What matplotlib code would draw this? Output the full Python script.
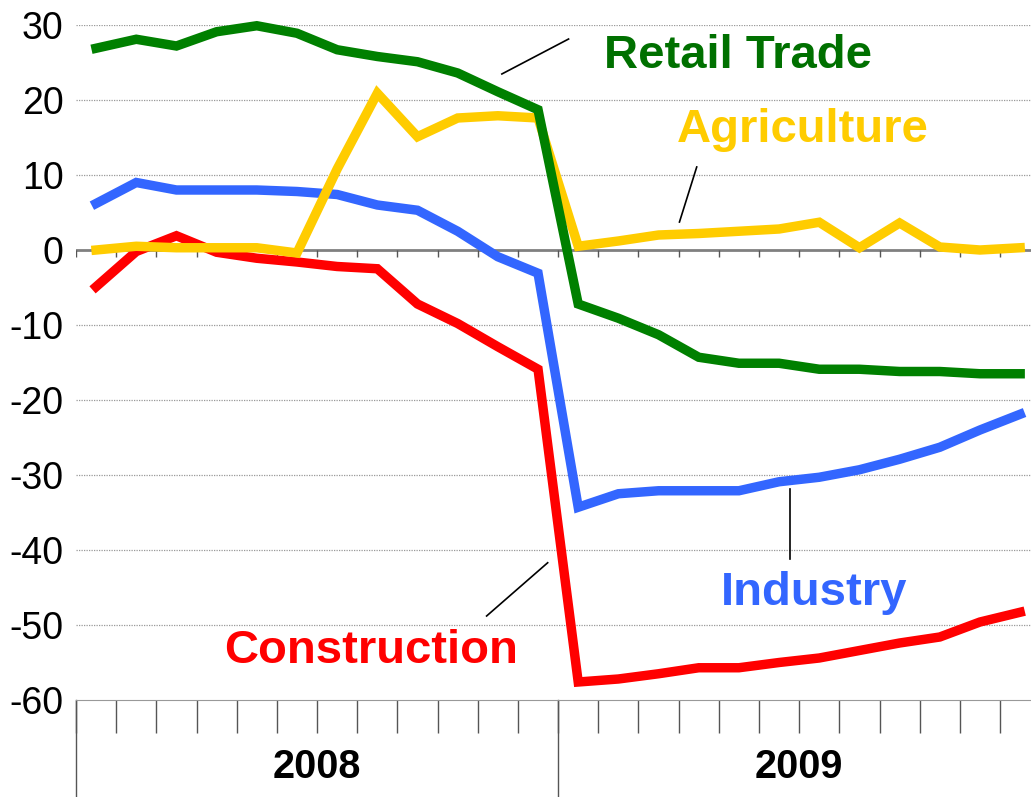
import matplotlib
matplotlib.use("Agg")
import matplotlib.pyplot as plt
import numpy as np

plt.rcParams["font.family"] = ["Liberation Sans", "DejaVu Sans"]
plt.rcParams["axes.unicode_minus"] = False

# monthly values, Jan 2008 - Dec 2009
retail = [26.9, 28.1, 27.2, 29.1, 29.9, 28.9, 26.7, 25.8, 25.1, 23.6, 21.1, 18.7,
          -7.2, -9.1, -11.3, -14.3, -15.1, -15.1, -15.9, -15.9, -16.2, -16.2, -16.5, -16.5]
agriculture = [0.0, 0.5, 0.3, 0.3, 0.3, -0.4, 10.8, 20.9, 15.1, 17.6, 17.9, 17.6,
               0.5, 1.2, 2.0, 2.2, 2.5, 2.8, 3.7, 0.3, 3.6, 0.4, 0.0, 0.3]
industry = [6.2, 9.0, 8.0, 8.0, 8.0, 7.8, 7.4, 6.0, 5.3, 2.5, -0.9, -3.1,
            -34.3, -32.5, -32.1, -32.1, -32.1, -30.9, -30.3, -29.3, -27.9, -26.3, -24.0, -21.9]
construction = [-4.9, -0.2, 1.9, -0.3, -1.1, -1.6, -2.2, -2.5, -7.2, -9.8, -12.9, -15.9,
                -57.6, -57.2, -56.5, -55.7, -55.7, -55.0, -54.4, -53.4, -52.4, -51.6, -49.6, -48.3]
years = ["2008", "2009"]

x = np.arange(len(retail)) + 0.5

fig = plt.figure(figsize=(10.31, 7.97), dpi=100)
ax = fig.add_axes([76 / 1031, 97 / 797, 1 - 76 / 1031, 675 / 797])

lw = 6.8
ax.plot(x, construction, color="#FF0000", lw=lw, solid_joinstyle="miter", zorder=3, clip_on=False)
ax.plot(x, industry, color="#3366FF", lw=lw, solid_joinstyle="miter", zorder=4, clip_on=False)
ax.plot(x, agriculture, color="#FFCC00", lw=lw, solid_joinstyle="miter", zorder=5, clip_on=False)
ax.plot(x, retail, color="#008000", lw=lw, solid_joinstyle="miter", zorder=6, clip_on=False)

ax.set_xlim(0, 23.77)
ax.set_ylim(-60, 30)
ax.set_yticks(np.arange(-60, 31, 10))
ax.tick_params(axis="y", length=0, pad=9, labelsize=27)
ax.set_xticks(np.arange(0, 24))
ax.tick_params(axis="x", direction="out", length=24, width=1, color="#555555", labelbottom=False)

for s in ["top", "right", "left"]:
    ax.spines[s].set_visible(False)
ax.spines["bottom"].set_color("#999999")

for v in range(-50, 31, 10):
    if v != 0:
        ax.axhline(v, color="#999999", lw=0.9, ls=(0, (1, 1)), zorder=1)
ax.axhline(0, color="#808080", lw=2, zorder=2)
ax.vlines(np.arange(0, 24), -0.9, 0, color="#555555", lw=1, zorder=2)

# year separators and labels
trans = ax.get_xaxis_transform()
for b in [0, 12]:
    ax.plot([b, b], [0, -0.144], transform=trans, color="#555555", lw=1, clip_on=False)
for i, yr in enumerate(years):
    ax.text(6 + 12 * i, -0.1, yr, transform=trans, ha="center", va="center",
            fontsize=28.5, fontweight="bold")

# series labels with leader lines
labels = [
    ("Retail Trade", "#007000", 16.47, 24.3, (10.60, 12.26), (23.47, 28.13)),
    ("Agriculture", "#FFCC00", 18.09, 14.4, (15.02, 15.45), (3.73, 11.07)),
    ("Industry", "#3366FF", 18.38, -47.3, (17.76, 17.76), (-31.9, -41.2)),
    ("Construction", "#FF0000", 7.34, -55.1, (10.22, 11.74), (-48.8, -41.7)),
]
for name, col, tx, ty, lx, ly in labels:
    ax.text(tx, ty, name, color=col, ha="center", va="baseline",
            fontsize=34, fontweight="bold", zorder=7)
    ax.plot(lx, ly, color="black", lw=1.2, zorder=7)

fig.savefig("out.png", dpi=100)
